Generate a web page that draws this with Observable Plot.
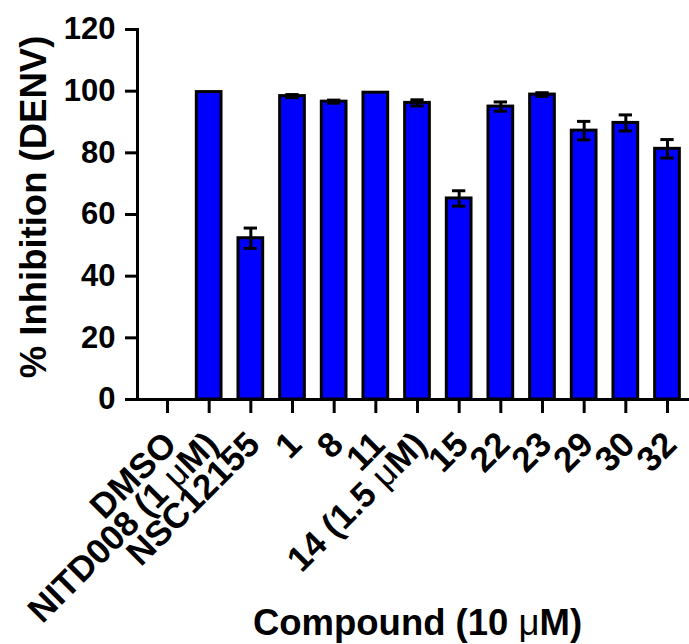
<!DOCTYPE html>
<html>
<head>
<meta charset="utf-8">
<script src="https://cdn.jsdelivr.net/npm/d3@7"></script>
<script src="https://cdn.jsdelivr.net/npm/@observablehq/plot@0.6"></script>
<style>
  html, body { margin: 0; padding: 0; background: white; }
</style>
</head>
<body>
<div id="chart"></div>
<script>
const categories = ["DMSO", "NITD008 (1 μM)", "NSC12155", "1", "8", "11", "14 (1.5 μM)", "15", "22", "23", "29", "30", "32"];
const means = [0, 99.7, 52.3, 98.4, 96.6, 99.5, 96.2, 65.2, 95.0, 98.9, 87.2, 89.7, 81.3];
const errors = [0, 0, 3.3, 0.5, 0.5, 0, 1.0, 2.5, 1.5, 0.6, 3.0, 2.6, 3.0];
const yTicks = [0, 20, 40, 60, 80, 100, 120];
const yTitle = "% Inhibition (DENV)";
const xTitle = "Compound (10 μM)";

const data = categories.map((name, i) => ({name, value: means[i], err: errors[i]}));
const bars = data.filter(d => d.value > 0);
const errs = data.filter(d => d.err > 0);

const chart = Plot.plot({
  width: 689,
  height: 644,
  marginLeft: 137,
  marginRight: 0,
  marginTop: 29,
  marginBottom: 245,
  style: {fontFamily: "'Liberation Sans', Arial, sans-serif", fontWeight: "bold", fontSize: "30px", background: "white", color: "black"},
  x: {type: "band", domain: categories, paddingInner: 0.407, paddingOuter: 0, insetLeft: 17.65, insetRight: 9.65, round: false},
  y: {domain: [0, 120]},
  marks: [
    Plot.barY(bars, {x: "name", y: "value", fill: "#0000FF", stroke: "black", strokeWidth: 3}),
    Plot.ruleX(errs, {x: "name", y1: d => d.value - d.err, y2: d => d.value + d.err, strokeWidth: 3}),
    Plot.tickY(errs, {x: "name", y: d => d.value + d.err, strokeWidth: 3, insetLeft: 5.7, insetRight: 5.7}),
    Plot.tickY(errs, {x: "name", y: d => d.value - d.err, strokeWidth: 3, insetLeft: 5.7, insetRight: 5.7}),
    Plot.ruleY([0], {strokeWidth: 3, strokeLinecap: "square"}),
    Plot.frame({anchor: "left", strokeWidth: 3, strokeLinecap: "square"}),
    Plot.axisY(yTicks, {tickSize: 12, tickPadding: 10, strokeWidth: 3, label: null, fontSize: 31, fontWeight: "bold"}),
    Plot.axisX({tickSize: 14, strokeWidth: 3, tickFormat: () => "", label: null}),
    Plot.text(categories, {x: d => d, frameAnchor: "bottom", dy: 47, dx: 11, rotate: -45, textAnchor: "end", lineAnchor: "bottom", fontSize: 35, fontWeight: "bold"}),
    Plot.text([yTitle], {frameAnchor: "left", dx: -92, dy: -7.5, rotate: -90, textAnchor: "middle", lineAnchor: "bottom", fontSize: 36.5, fontWeight: "bold"}),
    Plot.text([xTitle], {frameAnchor: "bottom", dy: 235, dx: 4, textAnchor: "middle", lineAnchor: "bottom", fontSize: 36.5, fontWeight: "bold"})
  ]
});

// Render the Greek mu in a regular (non-bold) weight, as in the reference
chart.querySelectorAll("text").forEach(t => {
  if (t.children.length === 0 && t.textContent.includes("μ")) {
    const parts = t.textContent.split("μ");
    t.textContent = "";
    parts.forEach((p, i) => {
      if (i > 0) {
        const mu = document.createElementNS("http://www.w3.org/2000/svg", "tspan");
        mu.setAttribute("font-weight", "normal");
        mu.textContent = "μ";
        t.appendChild(mu);
      }
      if (p) t.appendChild(document.createTextNode(p));
    });
  }
});

document.getElementById("chart").appendChild(chart);
</script>
</body>
</html>
